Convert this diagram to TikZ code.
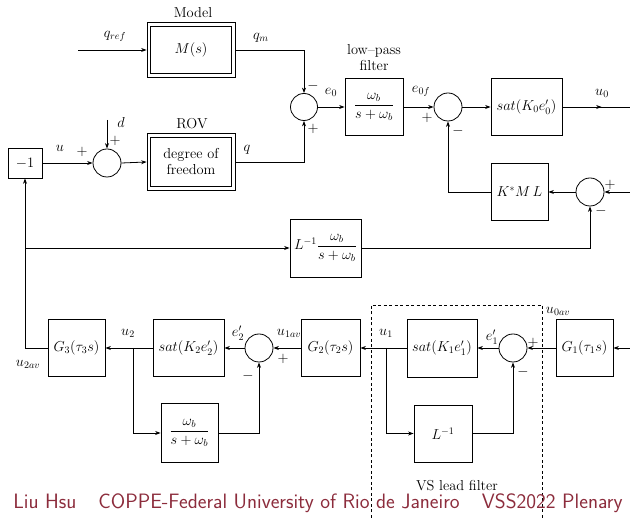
\documentclass[tikz,border=0pt]{standalone}
\usetikzlibrary{arrows.meta,calc}
\definecolor{footred}{RGB}{140,44,60}
\begin{document}
\begin{tikzpicture}[x=1pt,y=-1pt, line width=0.8pt, >={Stealth[length=5.5pt,width=4pt]},
  every node/.append style={font=\fontsize{14.4}{16}\selectfont},
  blk/.style={draw, rectangle, inner sep=1pt, minimum height=57pt},
  sumc/.style={draw, circle, minimum size=28pt, inner sep=0pt},
  lbl/.style={inner sep=0pt},
  foot/.style={inner sep=0pt, anchor=base west, text=footred, font=\sffamily\fontsize{20.8}{24}\selectfont}]
\useasboundingbox (0,0) rectangle (630,518);

% ---- top part ----
\node[blk, minimum width=88pt, minimum height=55pt] (m) at (191,50) {$M(s)$};
\draw ([shift={(4,4)}]m.north west) rectangle ([shift={(-4,-4)}]m.south east);
\node[lbl] (mlab) at (193,13) {Model};

\node[blk, minimum width=88pt, minimum height=57pt, align=center] (rov) at (191,162) {degree of\\freedom};
\draw ([shift={(4,4)}]rov.north west) rectangle ([shift={(-4,-4)}]rov.south east);
\node[lbl] (rovlab) at (192,124) {ROV};

\node[blk, minimum width=34pt, minimum height=30pt] (neg1) at (25,163) {$-1$};
\node[sumc] (s0) at (107,163) {};
\node[sumc, minimum size=27pt] (s1) at (304,107) {};
\node[blk, minimum width=58pt] (lp) at (374,107) {$\displaystyle\frac{\omega_b}{s+\omega_b}$};
\node[lbl, align=center] (lplab) at (374,58) {low--pass\\filter};
\node[sumc] (s2) at (448,107) {};
\node[blk, minimum width=71pt] (sat0) at (526.5,107) {$sat(K_0e_0')$};
\node[blk, minimum width=57pt] (kml) at (519.5,192) {$K^*M\,L$};
\node[sumc] (s3) at (590,192) {};
\node[blk, minimum width=71pt, minimum height=58pt] (lpl) at (325.5,248) {$L^{-1}\displaystyle\frac{\omega_b}{s+\omega_b}$};

% ---- bottom part ----
\node[blk, minimum width=57pt] (g3) at (76.5,348) {$G_3(\tau_3s)$};
\node[blk, minimum width=71pt] (sat2) at (188.5,348) {$sat(K_2e_2')$};
\node[blk, minimum width=57pt, minimum height=59pt] (lp2) at (189.5,433) {$\displaystyle\frac{\omega_b}{s+\omega_b}$};
\node[sumc] (s4) at (259,348) {};
\node[blk, minimum width=59pt] (g2) at (330.5,348) {$G_2(\tau_2s)$};
\node[blk, minimum width=70pt, minimum height=58pt] (sat1) at (442,348) {$sat(K_1e_1')$};
\node[blk, minimum width=58pt] (linv) at (443,433.5) {$L^{-1}$};
\node[sumc] (s5) at (513,348) {};
\node[blk, minimum width=57pt] (g1) at (584.5,348) {$G_1(\tau_1s)$};

% coordinates
\coordinate (qin) at (78,50);
\coordinate (din) at (107,120);
\coordinate (u0end) at (630,107);
\coordinate (s3in) at (630,192);
\coordinate (g1in) at (630,348);
\coordinate (brL) at (25,248);
\coordinate (br2) at (133,348);
\coordinate (br1) at (386,348);

% ---- connectors ----
\draw[->] (qin) -- (m.west);
\draw[->] (m.east) -| (s1.north);
\draw[->] (rov.east) -| (s1.south);
\draw[->] (s1.east) -- (lp.west);
\draw[->] (lp.east) -- (s2.west);
\draw[->] (s2.east) -- (sat0.west);
\draw (sat0.east) -- (u0end);
\draw[->] (sat0.east) -- ($(sat0.east)!0.58!(u0end)$);
\draw[->] (s3in) -- (s3.east);
\draw[->] (s3.west) -- (kml.east);
\draw[->] (kml.west) -| (s2.south);
\draw[->] (lpl.east) -| (s3.south);
\draw[->] (neg1.east) -- (s0.west);
\draw[->] (din) -- (s0.north);
\draw[->] (s0.east) -- (rov.west);
\draw[->] (g3.west) -| (neg1.south);
\draw[->] (brL) -- (lpl.west);
\draw[->] (sat2.west) -- (g3.east);
\draw[->] (br2) |- (lp2.west);
\draw[->] (lp2.east) -| (s4.south);
\draw[->] (s4.west) -- (sat2.east);
\draw[->] (g2.west) -- (s4.east);
\draw[->] (sat1.west) -- (g2.east);
\draw[->] (br1) |- (linv.west);
\draw[->] (linv.east) -| (s5.south);
\draw[->] (s5.west) -- (sat1.east);
\draw[->] (g1.west) -- (s5.east);
\draw[->] (g1in) -- (g1.east);

% dashed VS lead filter frame
\draw[dashed, line width=0.7pt, dash pattern=on 3pt off 2.5pt] (371,518) -- (371,305) -- (542,305) -- (542,518);
\node[lbl] (vslab) at (457,485.5) {VS lead filter};

% ---- signal labels ----
\node[lbl] at (115,36) {$q_{ref}$};
\node[lbl] at (261,38) {$q_m$};
\node[lbl] at (247,150) {$q$};
\node[lbl] at (331,92) {$e_0$};
\node[lbl] at (421,91) {$e_{0f}$};
\node[lbl] at (602,93) {$u_0$};
\node[lbl] at (60,148) {$u$};
\node[lbl] at (121,123) {$d$};
\node[lbl] at (128,333) {$u_2$};
\node[lbl] at (28,364) {$u_{2av}$};
\node[lbl] at (238,333) {$e_2'$};
\node[lbl] at (289,333) {$u_{1av}$};
\node[lbl] at (386,333) {$u_1$};
\node[lbl] at (492,337) {$e_1'$};
\node[lbl] at (558,311) {$u_{0av}$};

% ---- signs ----
\node[lbl] at (313,86) {$-$};
\node[lbl] at (313,129) {$+$};
\node[lbl] at (427,118) {$+$};
\node[lbl] at (458,131) {$-$};
\node[lbl] at (610,185) {$+$};
\node[lbl] at (601,211) {$-$};
\node[lbl] at (82,152) {$+$};
\node[lbl] at (115,141) {$+$};
\node[lbl] at (248,376) {$-$};
\node[lbl] at (283,359) {$+$};
\node[lbl] at (533,343) {$+$};
\node[lbl] at (523,372) {$-$};

% ---- footer ----
\node[foot] (f1) at (13,509) {Liu Hsu};
\node[foot] (f2) at (98,509) {COPPE-Federal University of Rio de Janeiro};
\node[foot, anchor=base east] (f3) at (623,509) {VSS2022 Plenary};
\end{tikzpicture}
\end{document}
